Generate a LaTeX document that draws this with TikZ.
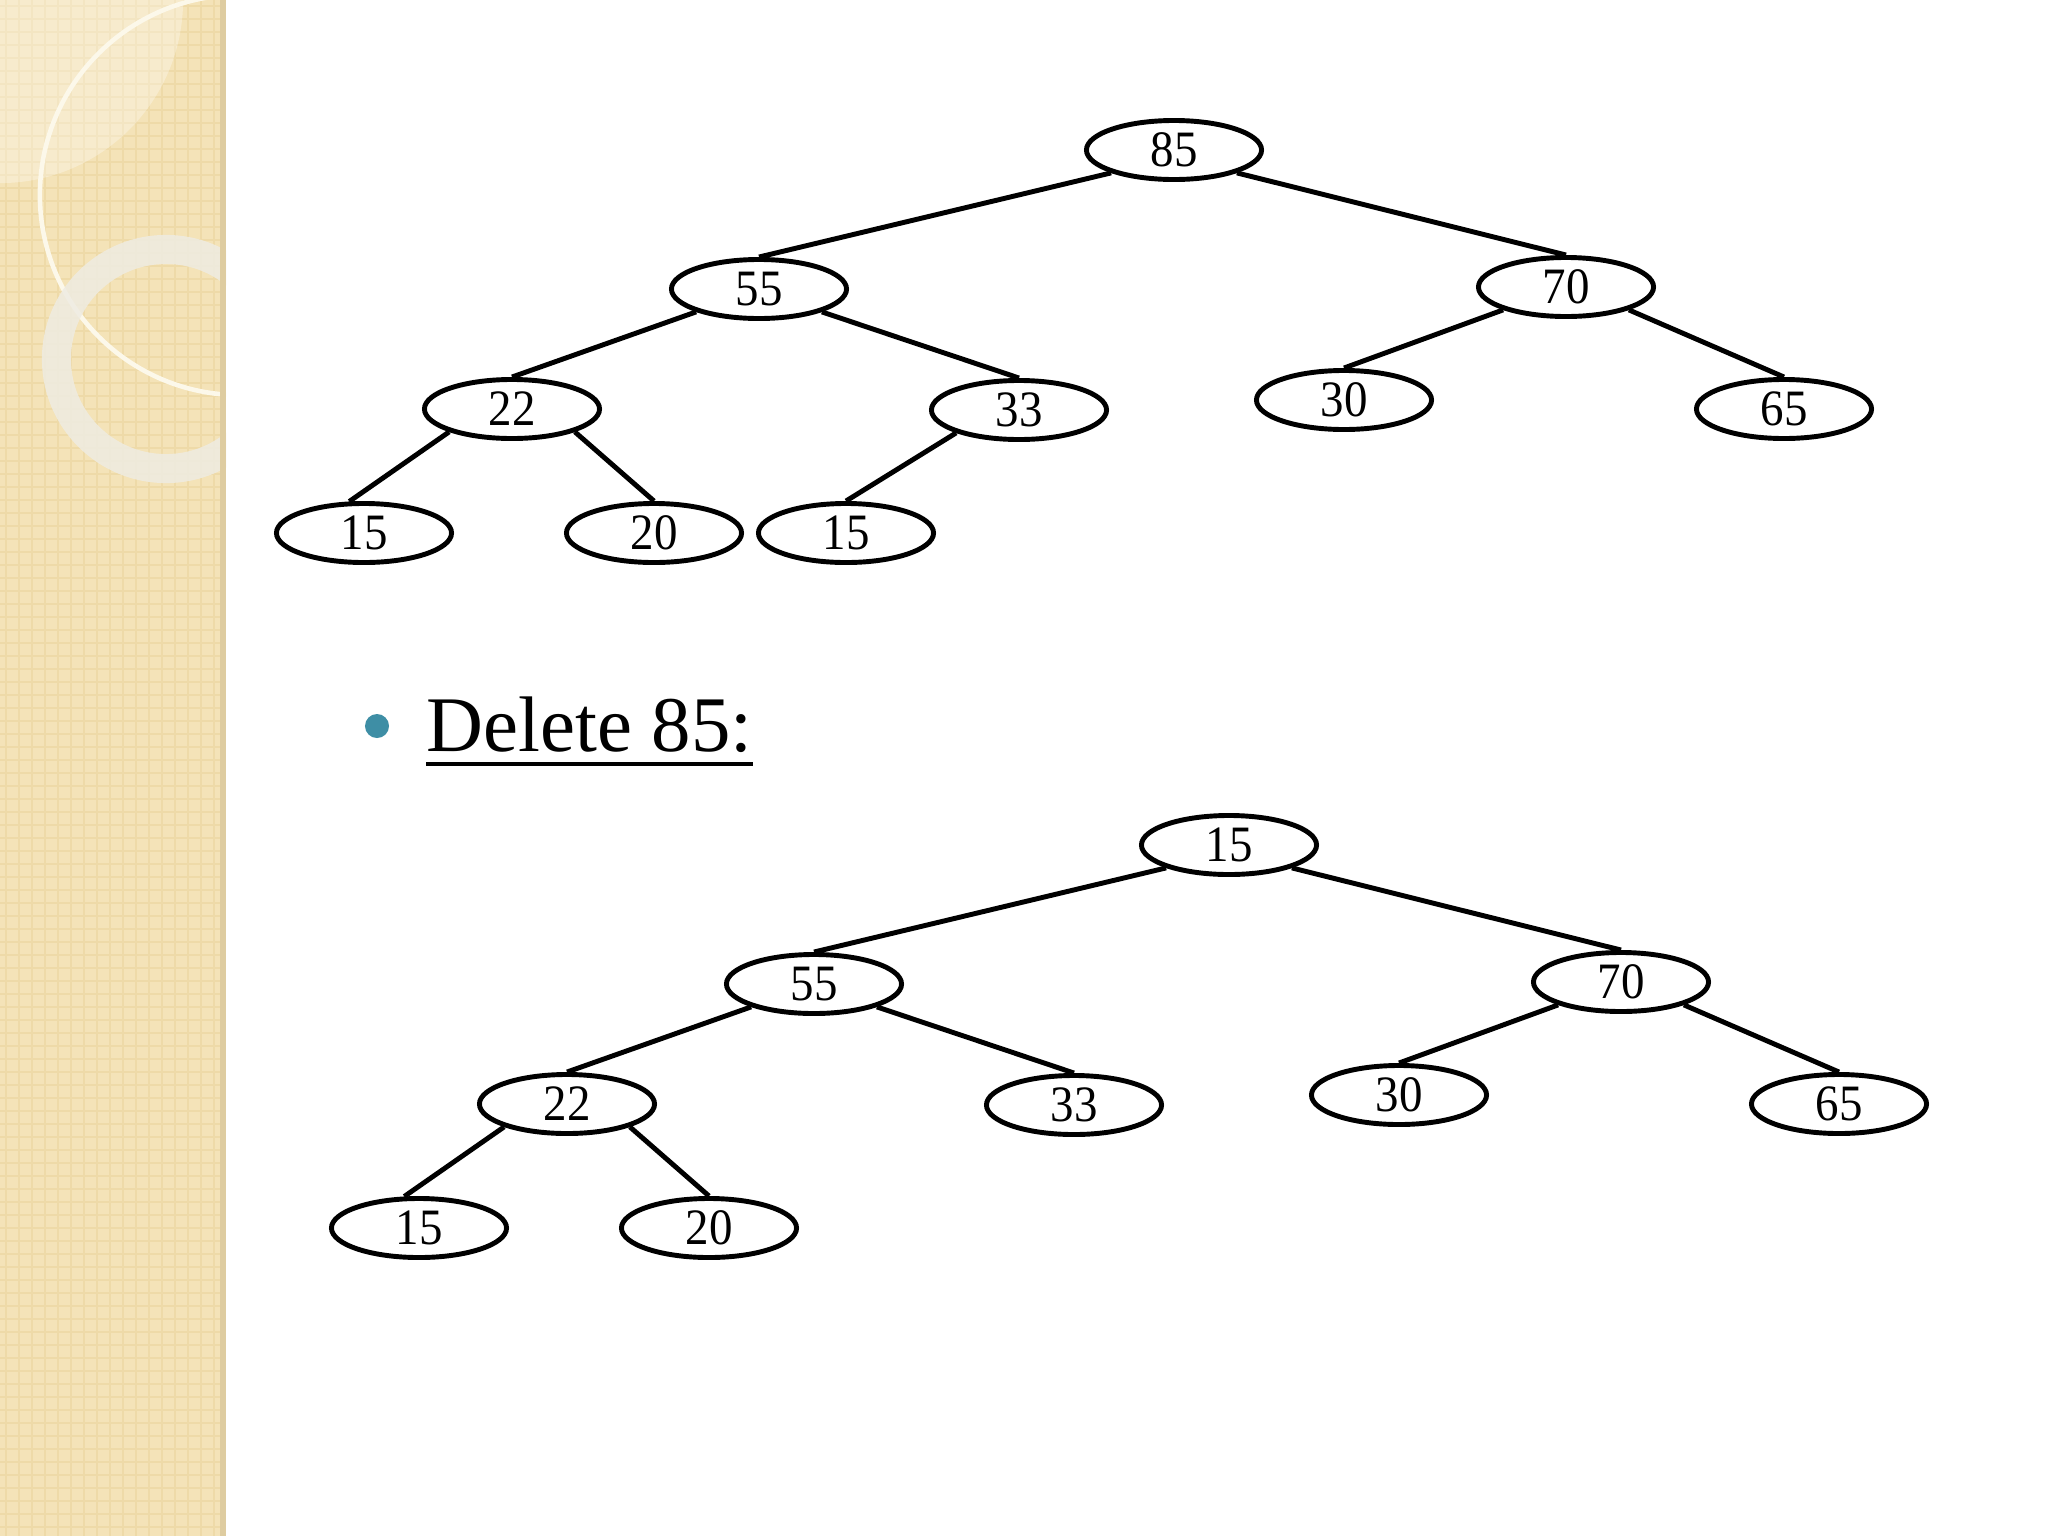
\documentclass[tikz,border=0pt]{standalone}
\usepackage{fontspec}
\setmainfont{Liberation Serif}
\newfontfamily\keyfont[FakeStretch=0.92]{Liberation Serif}
\usetikzlibrary{shapes.geometric}
\definecolor{strip}{RGB}{244,227,184}
\definecolor{stripline}{RGB}{238,218,168}
\definecolor{stripedge}{RGB}{222,204,160}
\definecolor{ringgray}{RGB}{239,236,226}
\definecolor{arcwhite}{RGB}{252,248,234}
\definecolor{bulletteal}{RGB}{62,142,165}
\tikzset{
  key/.style={ellipse, draw, line width=1.4pt, minimum width=1.75cm,
    minimum height=0.59cm, inner sep=0pt,
    font=\keyfont\fontsize{14.5}{14.5}\selectfont},
  link/.style={line width=1.4pt},
  dot/.style={circle, fill=bulletteal, minimum size=0.24cm, inner sep=0pt},
}
\begin{document}
\begin{tikzpicture}[x=0.01cm, y=-0.01cm]
  \useasboundingbox (0,0) rectangle (2048,1536);
  \fill[white] (0,0) rectangle (2048,1536);
  % --- side strip with its rings ---
  \fill[strip] (0,0) rectangle (226,1536);
  \foreach \i in {6,19,...,226}
    \draw[stripline, line width=0.6pt] (\i,0) -- (\i,1536);
  \foreach \j in {6,19,...,1536}
    \draw[stripline, line width=0.6pt] (0,\j) -- (226,\j);
  \begin{scope}
    \clip (0,0) rectangle (226,1536);
    \fill[white, opacity=0.3] (0,0) circle[radius=1.83cm];
    \draw[arcwhite, line width=1.3pt] (240,195) circle[radius=2cm];
    \fill[ringgray, opacity=0.85, even odd rule]
      (166,359) circle[radius=1.24cm] (166,359) circle[radius=0.95cm];
  \end{scope}
  \fill[stripedge] (220,0) rectangle (226,1536);

  % --- Helper: \heaptree{prefix}{shift}{root} ---
  % Draws the eight-key heap shifted by {shift}, node names start with {prefix}.
  % Links leave a parent low on its left (200) or right (340) side.
  \newcommand{\heaptree}[3]{%
    \begin{scope}[shift={(#2)}]
      \node[key] (#1root) at (1174,150) {#3};
      \node[key] (#1l)    at (759,289)  {55};
      \node[key] (#1r)    at (1566,287) {70};
      \node[key] (#1ll)   at (512,409)  {22};
      \node[key] (#1lr)   at (1019,410) {33};
      \node[key] (#1rl)   at (1344,400) {30};
      \node[key] (#1rr)   at (1784,409) {65};
      \node[key] (#1lll)  at (364,533)  {15};
      \node[key] (#1llr)  at (654,533)  {20};
      \draw[link] (#1root.200) -- (#1l.north);
      \draw[link] (#1root.340) -- (#1r.north);
      \draw[link] (#1l.200) -- (#1ll.north);
      \draw[link] (#1l.340) -- (#1lr.north);
      \draw[link] (#1r.200) -- (#1rl.north);
      \draw[link] (#1r.340) -- (#1rr.north);
      \draw[link] (#1ll.200) -- (#1lll.115);
      \draw[link] (#1ll.340) -- (#1llr.north);
    \end{scope}}
  % Heap before the delete, with the last key 15 under 33.
  \heaptree{t}{0,0}{85}
  \node[key] (tlrl) at (846,533) {15};
  \draw[link] (tlr.200) -- (tlrl.north);

  % Bullet line.
  \node[dot] (dot) at (377,726) {};
  \node[anchor=base west, inner sep=0pt, font=\fontsize{22.4}{22.4}\selectfont]
    (del) at (426,751) {Delete 85:};
  \draw[line width=0.9pt] ([yshift=-0.13cm]del.base west) -- ([yshift=-0.13cm]del.base east);

  % Heap after the delete: 15 moved up to the root.
  \heaptree{b}{55,695}{15}
\end{tikzpicture}
\end{document}
